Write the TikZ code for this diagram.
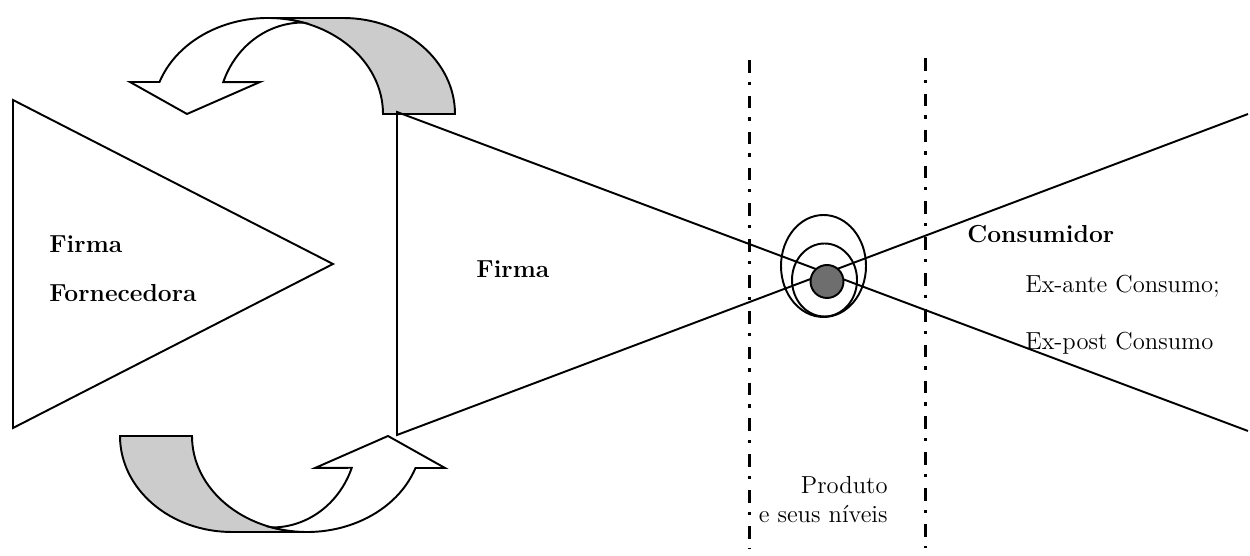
\documentclass[tikz,border=0pt]{standalone}
\usepackage{tikz}
\usetikzlibrary{arrows.meta,positioning,calc}

\tikzset{
  shapeline/.style={line width=1.1pt,line join=miter},
  levelcut/.style={line width=1.7pt,dash pattern=on 7.2pt off 5.1pt on 1.9pt off 6.2pt},
  lbl/.style={inner sep=0pt,font=\fontsize{14}{16}\selectfont},
}
\newcommand{\ribbonarrow}{%
  \filldraw[shapeline,fill=black!20] (7.66,8.84) arc[start angle=0,end angle=90,x radius=2.3,y radius=1.92]
    -- (6.86,10.76) arc[start angle=90,end angle=0,x radius=2.24,y radius=1.92] -- cycle;
  \filldraw[shapeline,fill=white] (3.19,9.48) arc[start angle=160.53,end angle=72.28,x radius=2.3,y radius=1.92]
    arc[start angle=90,end angle=159.65,x radius=1.70,y radius=1.83]
    -- (5.20,9.48) -- (3.74,8.84) -- (2.60,9.48) -- cycle;
}

\begin{document}
\begin{tikzpicture}
  \useasboundingbox (0,0) rectangle (25,11.12);
  % curved arrows between the two firms
  \ribbonarrow
  \begin{scope}[rotate around={180:(5.75,5.62)}]
    \ribbonarrow
  \end{scope}
  % supplier triangle
  \coordinate (sa) at (0.26,9.12);
  \coordinate (sb) at (0.26,2.56);
  \coordinate (sc) at (6.66,5.84);
  \draw[shapeline] (sa) -- (sb) -- (sc) -- cycle;
  % firm and consumer cones
  \coordinate (ft) at (7.94,8.88);
  \coordinate (fb) at (7.94,2.42);
  \coordinate (ct) at (24.96,8.84);
  \coordinate (cb) at (24.96,2.50);
  \draw[shapeline] (ct) -- (fb) -- (ft) -- (cb);
  % product levels
  \coordinate (lt) at (14.99,9.92);
  \coordinate (lb) at (14.99,0.16);
  \coordinate (rt) at (18.51,9.96);
  \coordinate (rb) at (18.51,0.16);
  \draw[levelcut] (lt) -- (lb);
  \draw[levelcut] (rt) -- (rb);
  \draw[shapeline] (16.47,5.80) ellipse[x radius=0.85,y radius=1.02];
  \draw[shapeline] (16.49,5.52) ellipse[x radius=0.65,y radius=0.73];
  \node[circle,draw,line width=1.1pt,fill=black!57,minimum size=0.66cm,inner sep=0pt] (core) at (16.54,5.49) {};
  % labels
  \node[lbl,anchor=base west] (sup1) at (0.98,6.06) {\bfseries Firma};
  \node[lbl,anchor=base west] (sup2) at (0.98,5.09) {\bfseries Fornecedora};
  \node[lbl,anchor=base west] (firm) at (9.52,5.56) {\bfseries Firma};
  \node[lbl,anchor=base west] (cons) at (19.34,6.26) {\bfseries Consumidor};
  \node[lbl,anchor=base west] (exa) at (20.5,5.26) {Ex-ante Consumo;};
  \node[lbl,anchor=base west] (exp) at (20.5,4.12) {Ex-post Consumo};
  \node[lbl,anchor=base east] (prod) at (17.76,1.24) {Produto};
  \node[lbl,anchor=base east] (niv) at (17.76,0.66) {e seus níveis};
\end{tikzpicture}
\end{document}
